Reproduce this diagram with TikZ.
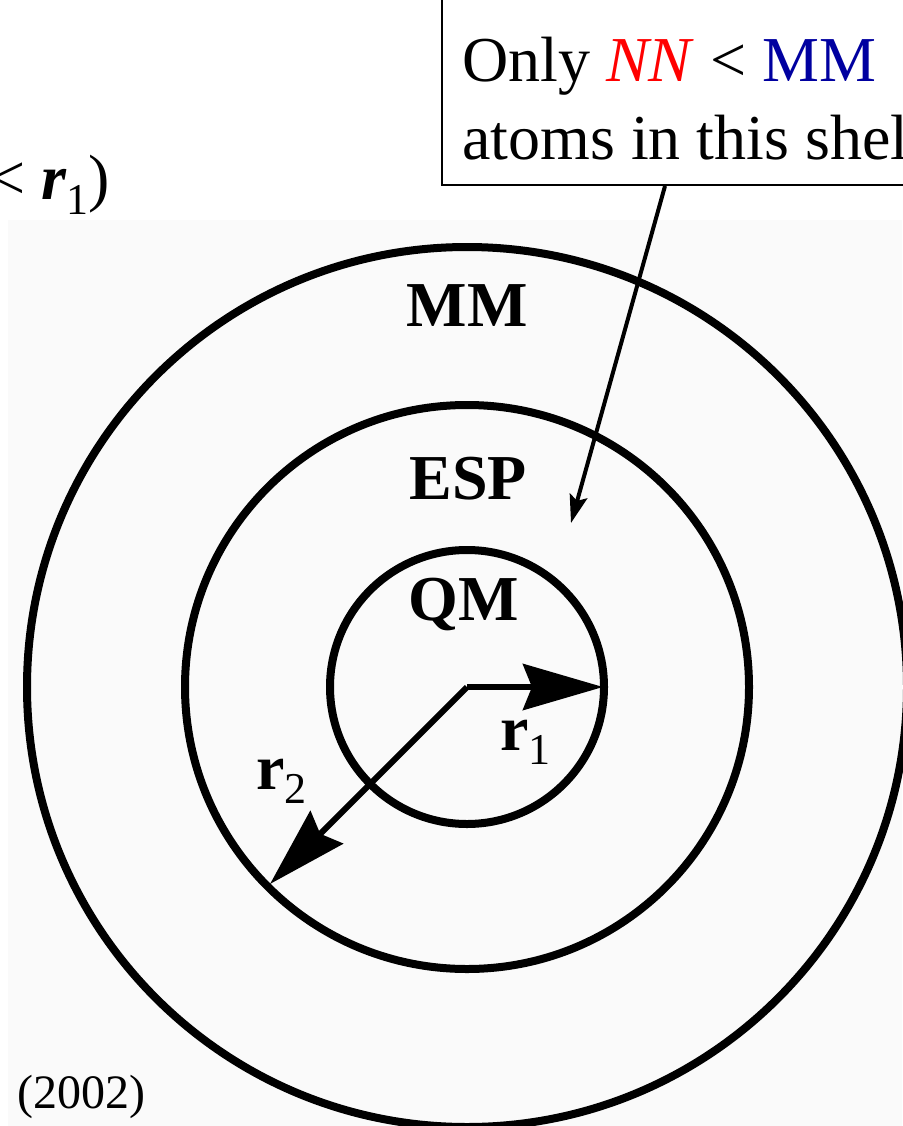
\documentclass[tikz,border=0pt]{standalone}
\usepackage{fontspec}
\setmainfont{Liberation Serif}
\usetikzlibrary{arrows.meta}
\definecolor{bgray}{HTML}{FAFAFA}
\definecolor{nnred}{HTML}{FF0000}
\definecolor{mmblue}{HTML}{0000A0}
\tikzset{
  ring/.style={line width=8pt},
  radarrow/.style={line width=6pt,-{Stealth[length=80pt,width=46pt,inset=9pt]}},
  pointer/.style={line width=4pt,-{Stealth[length=28pt,width=18pt,inset=5pt]}},
  region/.style={font=\fontsize{64}{70}\selectfont\bfseries,inner sep=0pt},
  bigtext/.style={font=\fontsize{64}{70}\selectfont,inner sep=0pt,anchor=base west},
  rlabel/.style={font=\fontsize{64}{70}\selectfont\bfseries,inner sep=0pt}
}
\begin{document}
\begin{tikzpicture}[x=1pt,y=-1pt]
\useasboundingbox (0,0) rectangle (902,1126);
\fill[bgray] (8,220) rectangle (902,1126);
\coordinate (c) at (467,687);
\draw[ring] (c) circle[radius=440];
\draw[ring] (c) circle[radius=282];
\draw[ring] (c) circle[radius=137];
\node[region] (mm) at (467,306) {MM};
\node[region] (esp) at (468,479) {ESP};
\node[region] (qm) at (464,604) {QM};
\coordinate (r1end) at (603,687);
\coordinate (r2end) at (270,884);
\draw[radarrow] (c) -- (r1end);
\draw[radarrow] (c) -- (r2end);
\node[rlabel,anchor=base west] (r1) at (500,750) {r\raisebox{-0.22em}{\fontsize{44}{44}\selectfont\mdseries 1}};
\node[rlabel,anchor=base west] (r2) at (256,789) {r\raisebox{-0.22em}{\fontsize{44}{44}\selectfont\mdseries 2}};
\node[draw,line width=2pt,inner sep=0pt,minimum width=480pt,minimum height=200pt,anchor=south west] (box) at (441,186) {};
\node[bigtext] (l1) at (462,82) {Only \textcolor{nnred}{\textit{NN}} < \textcolor{mmblue}{MM}};
\node[bigtext] (l2) at (462,160) {atoms in this shel};
\coordinate (ptip) at (571,523);
\coordinate (pstart) at (665,186);
\draw[pointer] (pstart) -- (ptip);
\node[font=\fontsize{64}{70}\selectfont,inner sep=0pt,anchor=base east] (top) at (110,200) {< \textbf{\textit{r}}\raisebox{-0.22em}{\fontsize{44}{44}\selectfont 1})};
\node[font=\fontsize{48}{52}\selectfont,inner sep=0pt,anchor=base west] (yr) at (17,1108) {(2002)};
\end{tikzpicture}
\end{document}
